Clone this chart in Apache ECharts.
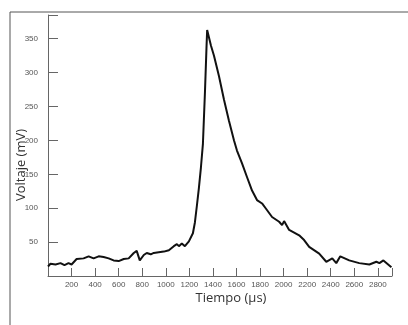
<!DOCTYPE html>
<html><head><meta charset="utf-8">
<script src="https://cdn.jsdelivr.net/npm/echarts@6/dist/echarts.min.js"></script>
<style>html,body{margin:0;padding:0;background:#fff}#c{width:408px;height:325px}</style>
</head><body><div id="c"></div>
<script>
const timeUs = [0,21,64,106,140,174,200,243,302,345,387,430,472,515,557,600,643,685,728,753,779,813,838,872,898,940,983,1026,1068,1094,1111,1136,1162,1196,1230,1247,1264,1281,1298,1315,1332,1345,1351,1383,1409,1451,1494,1536,1579,1604,1647,1689,1732,1774,1817,1860,1902,1962,1987,2004,2047,2132,2174,2217,2302,2362,2413,2447,2481,2557,2642,2728,2787,2813,2847,2915];
const voltageMv = [14,18,17,19,16,19,17,25,26,29,26,29,28,26,23,22,25,26,34,37,23,31,34,32,34,35,36,38,44,47,44,48,44,51,63,79,104,130,160,195,270,335,363,340,325,295,260,229,200,185,166,146,126,112,107,97,87,80,75,81,68,60,53,43,33,21,26,19,29,23,19,17,21,19,23,13];
const xTicks = [200,400,600,800,1000,1200,1400,1600,1800,2000,2200,2400,2600,2800];
const yTicks = [50,100,150,200,250,300,350];
const xTitle = 'Tiempo (µs)';
const yTitle = 'Voltaje (mV)';

const chart = echarts.init(document.getElementById('c'), null, {renderer:'canvas'});
const axisCol = '#666';
const labCol = '#555';
chart.setOption({
  animation:false,
  backgroundColor:'#fff',
  grid:{left:48,right:16,top:15,bottom:49},
  xAxis:{type:'value',min:0,max:2920,interval:200,
    axisLine:{show:true,lineStyle:{color:axisCol,width:1}},
    axisTick:{show:true,inside:true,length:8,lineStyle:{color:axisCol}},
    axisLabel:{fontSize:8,color:labCol,margin:5,fontFamily:'Liberation Sans',
      formatter:v=>xTicks.indexOf(v)>=0?String(v):''},
    splitLine:{show:false}},
  yAxis:{type:'value',min:0,max:385,interval:50,
    axisLine:{show:true,lineStyle:{color:axisCol,width:1}},
    axisTick:{show:true,inside:true,length:10,lineStyle:{color:axisCol}},
    axisLabel:{fontSize:8,color:labCol,margin:10,fontFamily:'Liberation Sans',
      formatter:v=>yTicks.indexOf(v)>=0?String(v):''},
    splitLine:{show:false}},
  series:[{type:'line',data:timeUs.map((t,i)=>[t,voltageMv[i]]),showSymbol:false,
    lineStyle:{color:'#111',width:2},z:3}],
  graphic:[
    {type:'line',shape:{x1:10,y1:12,x2:408,y2:12},style:{stroke:'#555',lineWidth:1}},
    {type:'line',shape:{x1:10,y1:12,x2:10,y2:325},style:{stroke:'#555',lineWidth:1}},
    {type:'text',x:231,y:298,style:{text:xTitle,fontSize:13,fill:'#333',fontFamily:'Open Sans',align:'center',verticalAlign:'middle'}},
    {type:'text',x:21,y:165,rotation:Math.PI/2,style:{text:yTitle,fontSize:13,fill:'#333',fontFamily:'Open Sans',align:'center',verticalAlign:'middle'}}
  ]
});
</script></body></html>
